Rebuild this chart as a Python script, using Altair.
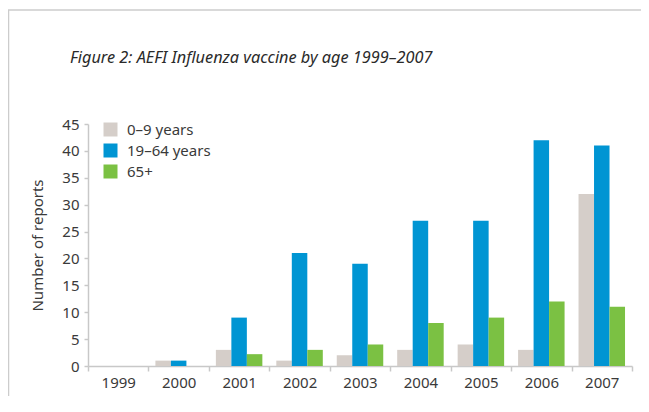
import altair as alt
import pandas as pd

years = ["1999", "2000", "2001", "2002", "2003", "2004", "2005", "2006", "2007"]
age_0_9 = [0, 1, 3, 1, 2, 3, 4, 3, 32]
age_19_64 = [0, 1, 9, 21, 19, 27, 27, 42, 41]
age_65_plus = [0, 0, 2.2, 3, 4, 8, 9, 12, 11]
groups = ["0–9 years", "19–64 years", "65+"]
colors = ["#d5cec9", "#0095d3", "#7bc143"]
title_text = "Figure 2: AEFI Influenza vaccine by age 1999–2007"

rows = []
for i, y in enumerate(years):
    for g, vals in zip(groups, [age_0_9, age_19_64, age_65_plus]):
        rows.append({"year": y, "group": g, "value": vals[i]})
df = pd.DataFrame(rows)

FONT = "Noto Sans"
W, H = 544, 242

bars = alt.Chart(df).mark_bar().encode(
    x=alt.X("year:N", sort=years,
            scale=alt.Scale(paddingInner=0, paddingOuter=0),
            axis=alt.Axis(title=None, labelAngle=0, tickBand="extent",
                          domainColor="#c8c8c8", tickColor="#c8c8c8",
                          domainWidth=1.5, tickWidth=1.5, tickSize=5,
                          labelFontSize=15, labelColor="#3a3a3a",
                          labelPadding=4, labelFont=FONT)),
    xOffset=alt.XOffset("group:N", sort=groups,
                        scale=alt.Scale(paddingInner=0, paddingOuter=0.45)),
    y=alt.Y("value:Q", scale=alt.Scale(domain=[0, 45]),
            axis=alt.Axis(title="Number of reports", values=list(range(0, 46, 5)),
                          grid=False, domainColor="#c8c8c8", tickColor="#c8c8c8",
                          domainWidth=1.5, tickWidth=1.5, tickSize=4,
                          labelFontSize=15, labelColor="#3a3a3a", labelPadding=5,
                          labelFont=FONT, titleFont=FONT, titleFontSize=15,
                          titleFontWeight="normal", titleColor="#3a3a3a",
                          titlePadding=16)),
    color=alt.Color("group:N", sort=groups,
                    scale=alt.Scale(domain=groups, range=colors),
                    legend=alt.Legend(title=None, orient="none", legendX=15, legendY=-2,
                                      symbolType="square", symbolSize=196,
                                      symbolStrokeWidth=0, labelFontSize=15,
                                      labelFont=FONT, labelColor="#3a3a3a",
                                      labelOffset=9, rowPadding=5)),
)

frame_df = pd.DataFrame({"title": [title_text]})
top_line = alt.Chart(frame_df).mark_rule(color="#cccccc", strokeWidth=1.5).encode(
    x=alt.value(-80), x2=alt.value(W + 17), y=alt.value(-114))
left_line = alt.Chart(frame_df).mark_rule(color="#cccccc", strokeWidth=1.5).encode(
    x=alt.value(-79.5), y=alt.value(-114), y2=alt.value(H + 60))
title_mark = alt.Chart(frame_df).mark_text(
    align="left", baseline="middle", font=FONT, fontSize=16.3, fontStyle="italic",
    color="#2a2a2a").encode(
    x=alt.value(-18), y=alt.value(-66), text="title:N")

chart = alt.layer(top_line, left_line, title_mark, bars).properties(
    width=W, height=H,
    autosize=alt.AutoSizeParams(type="none"),
    padding={"left": 80, "top": 116, "right": 9, "bottom": 30},
).configure_view(stroke=None)

chart.save("out.html", embed_options={"renderer": "svg", "actions": False})
